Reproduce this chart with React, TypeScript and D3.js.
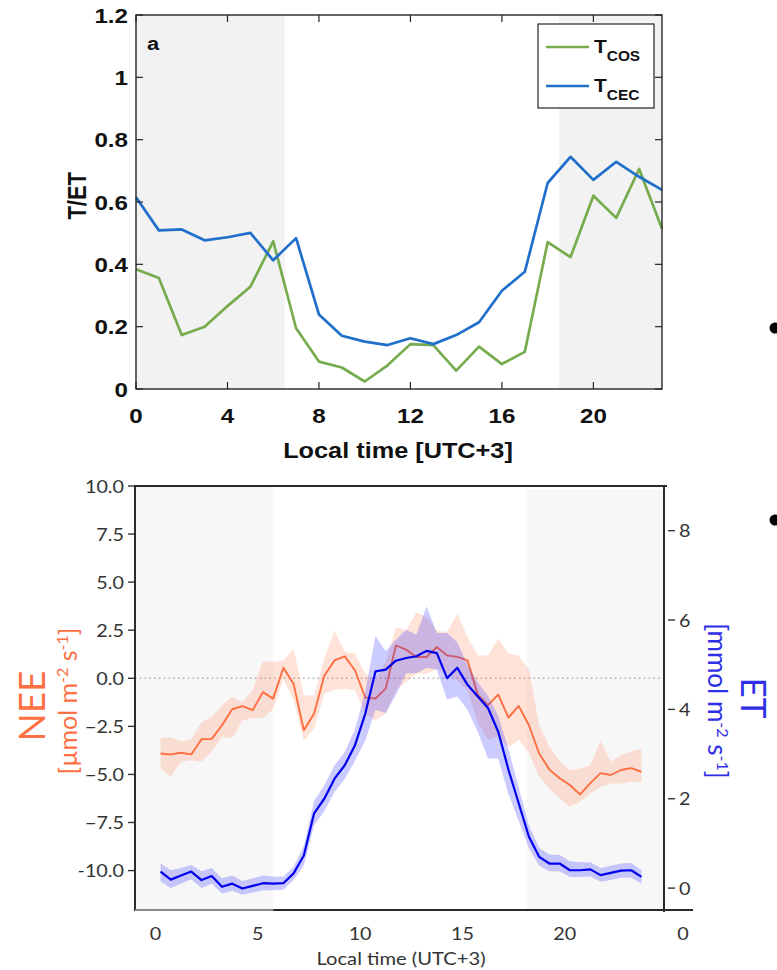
import React from "react";
import * as d3 from "d3";

// ---------- Panel a (top) ----------
const HOURS = [0, 1, 2, 3, 4, 5, 6, 7, 8, 9, 10, 11, 12, 13, 14, 15, 16, 17, 18, 19, 20, 21, 22, 23];
const T_COS = [0.384, 0.356, 0.173, 0.2, 0.266, 0.328, 0.474, 0.195, 0.088, 0.069, 0.024, 0.076, 0.144, 0.141, 0.059, 0.136, 0.08, 0.119, 0.471, 0.423, 0.62, 0.549, 0.706, 0.514];
const T_CEC = [0.615, 0.509, 0.512, 0.477, 0.487, 0.501, 0.413, 0.484, 0.239, 0.171, 0.152, 0.141, 0.163, 0.144, 0.173, 0.214, 0.315, 0.376, 0.661, 0.745, 0.671, 0.729, 0.681, 0.639];
const TOP_X_TICKS = [0, 4, 8, 12, 16, 20];
const TOP_Y_TICKS = [0, 0.2, 0.4, 0.6, 0.8, 1, 1.2];
const TOP_Y_LABELS = ["0", "0.2", "0.4", "0.6", "0.8", "1", "1.2"];
const TOP_NIGHT = [[0, 6.5], [18.5, 23]];

// ---------- Bottom panel ----------
const TIMES = [0.25, 0.75, 1.25, 1.75, 2.25, 2.75, 3.25, 3.75, 4.25, 4.75, 5.25, 5.75, 6.25, 6.75, 7.25, 7.75, 8.25, 8.75, 9.25, 9.75, 10.25, 10.75, 11.25, 11.75, 12.25, 12.75, 13.25, 13.75, 14.25, 14.75, 15.25, 15.75, 16.25, 16.75, 17.25, 17.75, 18.25, 18.75, 19.25, 19.75, 20.25, 20.75, 21.25, 21.75, 22.25, 22.75, 23.25, 23.75];
const NEE = [-3.91, -3.96, -3.87, -3.96, -3.17, -3.15, -2.44, -1.61, -1.45, -1.66, -0.72, -1.06, 0.55, -0.3, -2.7, -1.85, 0.13, 0.93, 1.14, 0.42, -1.0, -1.05, -0.54, 1.71, 1.49, 1.11, 1.11, 1.63, 1.19, 1.11, 0.93, -0.85, -1.4, -0.85, -2.04, -1.44, -2.44, -3.91, -4.75, -5.2, -5.55, -6.04, -5.45, -4.93, -5.03, -4.77, -4.67, -4.86];
const NEE_HI = [-3.1, -3.08, -3.27, -3.17, -2.27, -2.01, -1.4, -0.97, -1.23, -0.62, 0.9, 0.85, 0.93, 1.54, -0.9, -0.9, 1.0, 2.49, 1.37, 1.28, 0.24, -0.1, 0.85, 2.66, 2.49, 3.44, 3.18, 2.49, 2.4, 3.36, 2.15, 1.19, 1.19, 2.06, 1.28, 1.19, 0.45, -2.45, -3.55, -4.3, -4.78, -4.69, -4.52, -3.22, -4.34, -4.0, -3.82, -3.65];
const NEE_LO = [-4.69, -5.12, -4.34, -4.26, -4.34, -3.82, -3.04, -3.1, -2.18, -2.06, -2.09, -1.6, -0.02, -1.14, -3.25, -2.6, -0.8, -0.6, -0.54, -0.62, -1.83, -2.18, -1.83, -0.62, -0.19, 0.24, 0.24, 0.5, 0.24, -0.1, -0.62, -2.3, -3.2, -3.0, -3.6, -3.2, -3.9, -5.1, -5.75, -6.25, -6.68, -6.42, -5.99, -5.64, -5.47, -5.47, -5.38, -5.38];
const ET = [0.37, 0.19, 0.28, 0.37, 0.18, 0.27, 0.03, 0.1, -0.01, 0.05, 0.11, 0.1, 0.11, 0.33, 0.73, 1.67, 2.0, 2.45, 2.75, 3.2, 3.9, 4.85, 4.89, 5.09, 5.15, 5.19, 5.31, 5.26, 4.7, 4.93, 4.55, 4.29, 4.03, 3.5, 2.65, 1.9, 1.15, 0.7, 0.55, 0.55, 0.4, 0.4, 0.42, 0.29, 0.34, 0.39, 0.4, 0.25];
const ET_HI = [0.55, 0.4, 0.45, 0.52, 0.38, 0.45, 0.22, 0.28, 0.16, 0.22, 0.28, 0.26, 0.26, 0.48, 0.95, 1.95, 2.3, 2.75, 3.05, 3.55, 4.4, 5.64, 5.3, 5.56, 5.78, 5.67, 6.31, 5.71, 5.71, 5.5, 5.0, 4.6, 4.3, 3.85, 3.1, 2.25, 1.4, 0.9, 0.75, 0.74, 0.6, 0.58, 0.58, 0.45, 0.5, 0.55, 0.56, 0.4];
const ET_LO = [0.15, 0.0, 0.1, 0.2, 0.0, 0.1, -0.12, -0.06, -0.15, -0.1, -0.05, -0.05, -0.04, 0.18, 0.5, 1.4, 1.72, 2.15, 2.45, 2.85, 3.3, 3.99, 3.92, 4.33, 4.81, 4.81, 4.93, 4.89, 4.22, 4.29, 3.99, 3.5, 2.9, 2.9, 2.1, 1.5, 0.9, 0.5, 0.38, 0.38, 0.25, 0.25, 0.26, 0.14, 0.18, 0.23, 0.24, 0.1];
const NEE_TICKS = [10, 7.5, 5, 2.5, 0, -2.5, -5, -7.5, -10];
const NEE_TICK_LABELS = ["10.0", "7.5", "5.0", "2.5", "0.0", "\u22122.5", "\u22125.0", "\u22127.5", "-10.0"];
const ET_TICKS = [0, 2, 4, 6, 8];
const BOT_X_TICKS = [0, 5, 10, 15, 20];
const BOT_NIGHT = [[-1.0, 5.75], [18.15, 24.85]];

const TOP_FONT = "'Liberation Sans', Arial, Helvetica, sans-serif";
const BOT_FONT = "Lato, 'Open Sans', sans-serif";

type TP = {
  x: number;
  y: number;
  sx?: number;
  anchor?: "start" | "middle" | "end";
  font: string;
  size: number;
  weight?: string;
  fill: string;
  children: React.ReactNode;
};
// horizontally stretched text (the reference's lettering is wide)
function SText({ x, y, sx = 1.15, anchor = "start", font, size, weight = "normal", fill, children }: TP) {
  return (
    <text
      transform={`translate(${x},${y}) scale(${sx},1)`}
      textAnchor={anchor}
      fontFamily={font}
      fontSize={size}
      fontWeight={weight}
      fill={fill}
    >
      {children}
    </text>
  );
}

export default function App() {
  // top scales
  const xT = d3.scaleLinear().domain([0, 23]).range([136, 662]);
  const yT = d3.scaleLinear().domain([0, 1.2]).range([389, 15]);
  const lineT = (vals: number[]) =>
    d3.line<number>().x((_, i) => xT(HOURS[i])).y((d) => yT(d))(vals) || "";

  // bottom scales
  const xB = d3.scaleLinear().domain([-1.0, 24.85]).range([135, 664]);
  const yN = d3.scaleLinear().domain([-12.05, 10]).range([910, 486]);
  const yE = d3.scaleLinear().domain([-0.49, 9]).range([910, 486]);
  const neeArea = d3.area<number>().x((_, i) => xB(TIMES[i])).y0((_, i) => yN(NEE_LO[i])).y1((_, i) => yN(NEE_HI[i]))(NEE) || "";
  const neeLine = d3.line<number>().x((_, i) => xB(TIMES[i])).y((d) => yN(d))(NEE) || "";
  const etArea = d3.area<number>().x((_, i) => xB(TIMES[i])).y0((_, i) => yE(ET_LO[i])).y1((_, i) => yE(ET_HI[i]))(ET) || "";
  const etLine = d3.line<number>().x((_, i) => xB(TIMES[i])).y((d) => yE(d))(ET) || "";

  const tl = 7;
  const [x0, x1] = xT.range();
  const [y0b, y1t] = yT.range();

  return (
    <svg width={777} height={970} style={{ position: "absolute", left: 0, top: 0, background: "#fff" }}>
      {/* ===== Top panel ===== */}
      <g>
        {TOP_NIGHT.map(([a, b], i) => (
          <rect key={i} x={xT(a)} y={y1t} width={xT(b) - xT(a)} height={y0b - y1t} fill="#f2f2f2" />
        ))}
        <path d={lineT(T_COS)} fill="none" stroke="#77ac4e" strokeWidth={2.7} strokeLinejoin="round" />
        <path d={lineT(T_CEC)} fill="none" stroke="#1f6fcb" strokeWidth={2.7} strokeLinejoin="round" />
        <rect x={x0} y={y1t} width={x1 - x0} height={y0b - y1t} fill="none" stroke="#262626" strokeWidth={1.4} />
        {TOP_X_TICKS.map((t) => (
          <g key={"xt" + t}>
            <line x1={xT(t)} x2={xT(t)} y1={y0b} y2={y0b - tl} stroke="#262626" strokeWidth={1.2} />
            <line x1={xT(t)} x2={xT(t)} y1={y1t} y2={y1t + tl} stroke="#262626" strokeWidth={1.2} />
            <SText x={xT(t)} y={423} anchor="middle" font={TOP_FONT} weight="bold" size={21} fill="#111">
              {t}
            </SText>
          </g>
        ))}
        {TOP_Y_TICKS.map((t, i) => (
          <g key={"yt" + t}>
            <line x1={x0} x2={x0 + tl} y1={yT(t)} y2={yT(t)} stroke="#262626" strokeWidth={1.2} />
            <line x1={x1} x2={x1 - tl} y1={yT(t)} y2={yT(t)} stroke="#262626" strokeWidth={1.2} />
            <SText x={128} y={yT(t) + 7.5} anchor="end" font={TOP_FONT} weight="bold" size={21} fill="#111">
              {TOP_Y_LABELS[i]}
            </SText>
          </g>
        ))}
        <SText x={147} y={50} font={TOP_FONT} weight="bold" size={19} fill="#111">a</SText>
        <SText x={398} y={458} anchor="middle" font={TOP_FONT} weight="bold" size={22} fill="#111">
          Local time [UTC+3]
        </SText>
        <text
          transform={`translate(86,${yT(0.62)}) rotate(-90) scale(1,1.15)`}
          textAnchor="middle"
          fontFamily={TOP_FONT}
          fontWeight="bold"
          fontSize={22}
          fill="#111"
        >
          T/ET
        </text>
        {/* legend */}
        <rect x={538} y={24} width={116} height={84} fill="#fff" stroke="#262626" strokeWidth={1.2} />
        <line x1={546} x2={589} y1={47} y2={47} stroke="#77ac4e" strokeWidth={2.7} />
        <line x1={546} x2={589} y1={86} y2={86} stroke="#1f6fcb" strokeWidth={2.7} />
        <SText x={594} y={53} sx={1.1} font={TOP_FONT} weight="bold" size={19} fill="#111">
          T<tspan fontSize={14} dy={8}>COS</tspan>
        </SText>
        <SText x={594} y={92} sx={1.1} font={TOP_FONT} weight="bold" size={19} fill="#111">
          T<tspan fontSize={14} dy={8}>CEC</tspan>
        </SText>
      </g>

      {/* ===== Bottom panel ===== */}
      <g>
        {BOT_NIGHT.map(([a, b], i) => (
          <rect key={i} x={xB(a)} y={i === 0 ? 487 : 489} width={xB(b) - xB(a)} height={910 - (i === 0 ? 487 : 489)} fill="#f7f7f7" />
        ))}
        <line x1={135} x2={664} y1={yN(0)} y2={yN(0)} stroke="#aaaaaa" strokeWidth={1.6} strokeDasharray="1.6,3.2" />
        <path d={neeArea} fill="#ff8a65" fillOpacity={0.25} stroke="none" />
        <path d={neeLine} fill="none" stroke="#ff6e40" strokeWidth={1.9} strokeLinejoin="round" />
        <path d={etArea} fill="#3030ff" fillOpacity={0.25} stroke="none" />
        <path d={etLine} fill="none" stroke="#0000ee" strokeWidth={2.2} strokeLinejoin="round" />

        {/* spines */}
        <line x1={135} x2={667} y1={486} y2={486} stroke="#2a2a2a" strokeWidth={2} />
        <line x1={135} x2={135} y1={485} y2={911} stroke="#2a2a2a" strokeWidth={2} />
        <line x1={664} x2={664} y1={485} y2={912} stroke="#2a2a2a" strokeWidth={2} />
        <line x1={135} x2={xB(5.75)} y1={910} y2={910} stroke="#8a8a8a" strokeWidth={2.2} />
        <line x1={xB(5.75)} x2={693} y1={910} y2={910} stroke="#2a2a2a" strokeWidth={2.2} />

        {NEE_TICKS.map((t, i) => (
          <g key={"n" + t}>
            <line x1={128} x2={135} y1={yN(t)} y2={yN(t)} stroke="#333" strokeWidth={1.4} />
            <SText x={124} y={yN(t) + 6.5} sx={1.1} anchor="end" font={BOT_FONT} size={18} fill="#333">
              {NEE_TICK_LABELS[i]}
            </SText>
          </g>
        ))}
        {ET_TICKS.map((t) => (
          <g key={"e" + t}>
            <line x1={668} x2={675} y1={yE(t)} y2={yE(t)} stroke="#333" strokeWidth={1.4} />
            <SText x={679} y={yE(t) + 6.5} sx={1.1} font={BOT_FONT} size={18} fill="#333">
              {t}
            </SText>
          </g>
        ))}
        {BOT_X_TICKS.map((t) => (
          <SText key={"bx" + t} x={xB(t)} y={940} sx={1.1} anchor="middle" font={BOT_FONT} size={18} fill="#333">
            {t}
          </SText>
        ))}
        <SText x={683} y={940} sx={1.1} anchor="middle" font={BOT_FONT} size={18} fill="#333">0</SText>
        <SText x={401} y={965} sx={1.12} anchor="middle" font={BOT_FONT} size={18} fill="#333">
          Local time (UTC+3)
        </SText>

        <text transform="translate(45,706) rotate(-90)" textAnchor="middle" fontFamily={BOT_FONT} fontSize={37} fill="#ff7043">
          NEE
        </text>
        <text transform="translate(77,701) rotate(-90)" textAnchor="middle" fontFamily={BOT_FONT} fontSize={25} fill="#ff7043">
          [µmol m<tspan fontSize={16} dy={-9}>-2</tspan><tspan dy={9}> s</tspan><tspan fontSize={16} dy={-9}>-1</tspan><tspan dy={9}>]</tspan>
        </text>
        <text transform="translate(741,698) rotate(90)" textAnchor="middle" fontFamily={BOT_FONT} fontSize={35} fill="#2f2fe6">
          ET
        </text>
        <text transform="translate(708,701) rotate(90)" textAnchor="middle" fontFamily={BOT_FONT} fontSize={26} fill="#2f2fe6">
          [mmol m<tspan fontSize={16} dy={-9}>-2</tspan><tspan dy={9}> s</tspan><tspan fontSize={16} dy={-9}>-1</tspan><tspan dy={9}>]</tspan>
        </text>
      </g>

      {/* page bullets at right edge */}
      <circle cx={775} cy={328} r={5.5} fill="#000" />
      <circle cx={775} cy={520} r={5.5} fill="#000" />
    </svg>
  );
}
